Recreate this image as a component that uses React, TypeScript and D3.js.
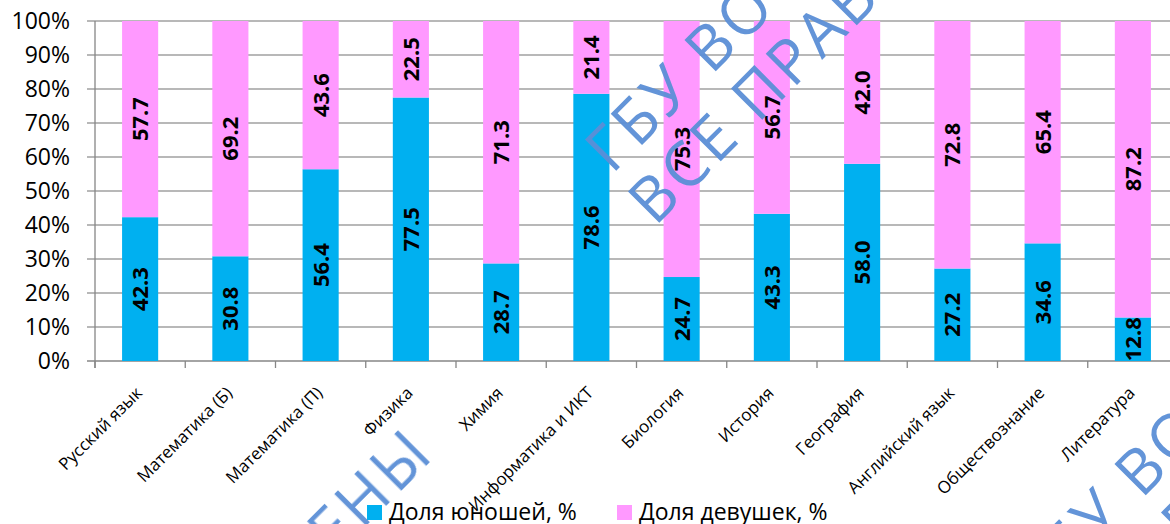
import React from "react";
import * as d3 from "d3";

const categories = [
  "Русский язык",
  "Математика (Б)",
  "Математика (П)",
  "Физика",
  "Химия",
  "Информатика и ИКТ",
  "Биология",
  "История",
  "География",
  "Английский язык",
  "Обществознание",
  "Литература",
];
const boys = [42.3, 30.8, 56.4, 77.5, 28.7, 78.6, 24.7, 43.3, 58.0, 27.2, 34.6, 12.8];
const girls = [57.7, 69.2, 43.6, 22.5, 71.3, 21.4, 75.3, 56.7, 42.0, 72.8, 65.4, 87.2];
const seriesNames = ["Доля юношей, %", "Доля девушек, %"];
const seriesColors = ["#00B0F0", "#FF99FF"];
const yTicks = [0, 10, 20, 30, 40, 50, 60, 70, 80, 90, 100];

// watermark lines
const wmLine1 = "ГБУ ВО «ЦОКО»";
const wmLine2 = "ВСЕ ПРАВА ЗАЩИЩЕНЫ";

const W = 1170;
const H = 524;
const margin = { top: 21, left: 95, right: -8, bottom: 163 };
const font = "'Open Sans', sans-serif";

export default function App() {
  const x = d3
    .scaleBand<string>()
    .domain(categories)
    .range([margin.left, W - margin.right])
    .paddingInner(0.6)
    .paddingOuter(0.3);
  const y = d3.scaleLinear().domain([0, 100]).range([H - margin.bottom, margin.top]);

  const rows = categories.map((c, i) => ({ cat: c, boys: boys[i], girls: girls[i] }));
  const stacked = d3.stack<any>().keys(["boys", "girls"])(rows);

  const step = x.step();
  const x0 = margin.left;
  const x1 = W - margin.right;
  const yBottom = y(0);

  const wmColor = "#5B8FD6";
  const wmSize = 62;

  return (
    <svg
      width={W}
      height={H}
      style={{ position: "absolute", left: 0, top: 0, background: "#fff" }}
      fontFamily={font}
    >
      {/* gridlines */}
      {yTicks.map((t) => (
        <line
          key={"g" + t}
          x1={x0 - 8}
          x2={x1}
          y1={y(t)}
          y2={y(t)}
          stroke={t === 0 ? "#868686" : "#A0A0A0"}
          strokeWidth={1.3}
        />
      ))}
      {/* y axis */}
      <line x1={x0} x2={x0} y1={y(100)} y2={yBottom + 7} stroke="#868686" strokeWidth={1.3} />
      {yTicks.map((t) => (
        <text
          key={"yl" + t}
          x={x0 - 25}
          y={y(t)}
          dy="0.36em"
          textAnchor="end"
          fontSize={23}
          fill="#000"
        >
          {t + "%"}
        </text>
      ))}
      {/* x ticks */}
      {d3.range(categories.length + 1).map((i) => (
        <line
          key={"xt" + i}
          x1={x0 + i * step}
          x2={x0 + i * step}
          y1={yBottom}
          y2={yBottom + 7}
          stroke="#868686"
          strokeWidth={1.3}
        />
      ))}
      {/* bars */}
      {stacked.map((s, si) =>
        s.map((d, i) => (
          <rect
            key={"b" + si + "-" + i}
            x={x(categories[i])}
            y={y(d[1])}
            width={x.bandwidth()}
            height={y(d[0]) - y(d[1])}
            fill={seriesColors[si]}
          />
        ))
      )}
      {/* data labels */}
      {stacked.map((s, si) =>
        s.map((d, i) => {
          const cx = (x(categories[i]) as number) + x.bandwidth() / 2;
          const cy = (y(d[0]) + y(d[1])) / 2;
          return (
            <text
              key={"l" + si + "-" + i}
              transform={`translate(${cx},${cy}) rotate(-90)`}
              textAnchor="middle"
              dy="0.36em"
              fontSize={22}
              fontWeight="bold"
              fill="#000"
            >
              {(d[1] - d[0]).toFixed(1)}
            </text>
          );
        })
      )}
      {/* x labels */}
      {categories.map((c) => {
        const cx = (x(c) as number) + x.bandwidth() / 2;
        return (
          <text
            key={"xl" + c}
            transform={`translate(${cx + 3},${yBottom + 33}) rotate(-45)`}
            textAnchor="end"
            fontSize={17}
            fill="#000"
          >
            {c}
          </text>
        );
      })}
      {/* legend */}
      {seriesNames.map((n, i) => {
        const lx = [367, 617][i];
        return (
          <g key={"lg" + i}>
            <rect x={lx} y={505} width={15} height={15} fill={seriesColors[i]} />
            <text x={lx + 22} y={520} fontSize={23} fill="#000">
              {n}
            </text>
          </g>
        );
      })}
      {/* watermark */}
      <g fill={wmColor} fontSize={wmSize} letterSpacing={4} opacity={0.95}>
        <text transform="translate(612,175) rotate(-45)">{wmLine1}</text>
        <text transform="translate(655,227) rotate(-45)">{wmLine2}</text>
        <text transform="translate(1042,599) rotate(-45)">{wmLine1}</text>
        <text transform="translate(1085,651) rotate(-45)">{wmLine2}</text>
        <text transform="translate(437,455) rotate(-45)" textAnchor="end">
          {wmLine2}
        </text>
        <text transform="translate(4,44) rotate(-45)" textAnchor="end">
          {wmLine2}
        </text>
      </g>
    </svg>
  );
}
